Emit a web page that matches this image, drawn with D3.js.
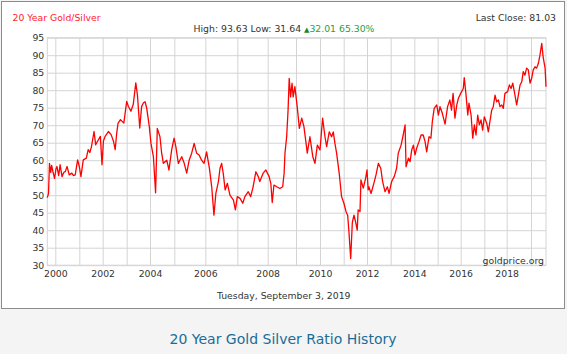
<!DOCTYPE html>
<html>
<head>
<meta charset="utf-8">
<script src="https://cdn.jsdelivr.net/npm/d3@7"></script>
<style>
    body { margin: 0; background: #f4f4f4; }
    text { font-family: "DejaVu Sans", Verdana, sans-serif; }
</style>
</head>
<body>
<svg id="chart" width="567" height="354"></svg>
<script>
// gold / silver ratio (decimal year, ratio)
const ratioDates = [
    1999.67, 1999.72, 1999.76, 1999.81, 1999.85, 1999.9, 1999.97, 2000.03, 2000.07, 2000.14,
    2000.2, 2000.28, 2000.35, 2000.42, 2000.49, 2000.58, 2000.69, 2000.76, 2000.83, 2000.93,
    2001.0, 2001.07, 2001.17, 2001.3, 2001.38, 2001.45, 2001.52, 2001.63, 2001.7, 2001.78,
    2001.9, 2001.97, 2002.03, 2002.1, 2002.24, 2002.35, 2002.45, 2002.52, 2002.58, 2002.64,
    2002.74, 2002.88, 2003.0, 2003.07, 2003.18, 2003.28, 2003.39, 2003.46, 2003.56, 2003.64,
    2003.72, 2003.79, 2003.86, 2003.97, 2004.04, 2004.14, 2004.23, 2004.30, 2004.41, 2004.48,
    2004.55, 2004.69, 2004.78, 2004.89, 2004.99, 2005.05, 2005.13, 2005.24, 2005.32, 2005.40,
    2005.48, 2005.56, 2005.64, 2005.72, 2005.80, 2005.88, 2005.96, 2006.04, 2006.13, 2006.20,
    2006.27, 2006.33, 2006.41, 2006.46, 2006.51, 2006.56, 2006.62, 2006.69, 2006.77, 2006.88,
    2006.94, 2007.0, 2007.09, 2007.18, 2007.25, 2007.36, 2007.44, 2007.52, 2007.61, 2007.69,
    2007.74, 2007.85, 2007.94, 2008.05, 2008.11, 2008.16, 2008.22, 2008.32, 2008.43, 2008.53,
    2008.58, 2008.61, 2008.67, 2008.72, 2008.76, 2008.81, 2008.86, 2008.90, 2008.96, 2009.05,
    2009.14, 2009.24, 2009.33, 2009.42, 2009.47, 2009.58, 2009.70, 2009.79, 2009.89, 2010.0,
    2010.11, 2010.21, 2010.28, 2010.39, 2010.49, 2010.56, 2010.63, 2010.70, 2010.81, 2010.91,
    2011.01, 2011.10, 2011.17, 2011.22, 2011.30, 2011.37, 2011.44, 2011.51, 2011.58, 2011.62,
    2011.70, 2011.74, 2011.84, 2011.94, 2012.0, 2012.05, 2012.08, 2012.17, 2012.27, 2012.38,
    2012.48, 2012.58, 2012.66, 2012.76, 2012.86, 2012.93, 2013.04, 2013.15, 2013.25, 2013.32,
    2013.44, 2013.53, 2013.61, 2013.65, 2013.75, 2013.82, 2013.89, 2013.96, 2014.03, 2014.10,
    2014.20, 2014.29, 2014.38, 2014.46, 2014.53, 2014.63, 2014.71, 2014.77, 2014.85, 2014.96,
    2015.03, 2015.10, 2015.20, 2015.32, 2015.43, 2015.53, 2015.60, 2015.67, 2015.75, 2015.83,
    2015.90, 2016.0, 2016.11, 2016.15, 2016.22, 2016.30, 2016.35, 2016.44, 2016.51, 2016.58,
    2016.65, 2016.72, 2016.79, 2016.86, 2016.93, 2017.0, 2017.11, 2017.18, 2017.25, 2017.33,
    2017.40, 2017.48, 2017.55, 2017.63, 2017.70, 2017.78, 2017.85, 2017.92, 2018.04, 2018.11,
    2018.18, 2018.25, 2018.34, 2018.41, 2018.48, 2018.55, 2018.62, 2018.68, 2018.75, 2018.82,
    2018.89, 2018.96, 2019.03, 2019.10, 2019.18, 2019.25, 2019.33, 2019.40, 2019.48, 2019.54,
    2019.58, 2019.63, 2019.67
]
const ratioValues = [
    49.3, 50.5, 59.1, 56.5, 58.5, 56.8, 54.8, 57.6, 58.2, 55.6,
    58.7, 55.3, 56.5, 56.8, 58.2, 55.8, 56.3, 55.6, 55.8, 60.1,
    58.2, 55.3, 60.1, 60.6, 63, 62.2, 63.9, 68.2, 64.4, 65.4,
    66.8, 58.7, 65.5, 66.8, 68.2, 67.3, 65.4, 63, 67.5, 70.6,
    71.6, 70.6, 76.8, 75.4, 74, 75.9, 82.1, 78.7, 69.2, 75.3,
    76.4, 76.7, 74.8, 69.6, 64.8, 61, 50.7, 69.1, 66.7, 62,
    59.1, 60, 57.2, 62.9, 66.3, 63.9, 59.1, 61, 59.1, 56.3,
    60, 62, 64.8, 62, 61.5, 60, 59.1, 62.4, 57.6, 52.4,
    44.3, 50.5, 53.9, 57.7, 59.1, 56.3, 51.5, 53.4, 50, 48.6,
    45.8, 49.6, 49.1, 47.7, 49.6, 51, 49.6, 52.4, 56.7, 55.3,
    53.9, 56.3, 57.2, 55.3, 53.4, 47.9, 52.9, 52.4, 51.9, 52.4,
    56.3, 62, 66.7, 74.3, 83.4, 78.1, 82, 78.1, 81, 75.3,
    69.1, 72, 69.6, 64.8, 62, 66.7, 61, 59.1, 64.3, 62.9,
    72, 66.7, 63.9, 68.1, 66.7, 68.1, 64.8, 62, 56.3, 49.6,
    47.7, 45.3, 44.3, 40, 31.9, 42.2, 44.3, 42.4, 40, 45.8,
    45.3, 54.4, 52, 54.8, 57.2, 51.5, 52.4, 50.5, 52.9, 55.8,
    59.1, 57.7, 53.9, 51, 52.4, 50.5, 53.9, 55.3, 57.7, 62,
    64.3, 67.2, 70.1, 58.1, 60.6, 59.6, 62.9, 64.3, 61.5, 63.4,
    65.3, 67.2, 67.2, 65.3, 62.4, 66.7, 66.3, 71, 74.8, 75.8,
    72.9, 75.3, 73.4, 70.3, 75.3, 77.2, 74.3, 79.1, 72, 75.8,
    77.7, 79.1, 80.5, 83.6, 79.1, 72.9, 76.3, 72.9, 66.3, 70.1,
    67.2, 72.9, 70.1, 71.5, 68.6, 72.4, 70.5, 68.1, 71, 74.3,
    75.3, 78.6, 76.7, 77.2, 75.3, 75.8, 74.8, 79.1, 79.6, 81.5,
    80.5, 82, 78.6, 75.8, 78.6, 81.5, 82.4, 85.3, 84.3, 86.3,
    85.8, 82, 83.4, 85.8, 86.7, 86.3, 87.7, 90, 93.4, 89.6,
    88.1, 86.3, 81.0
]

const yTicks = d3.range(30, 100, 5)
const yearLines = d3.range(2000, 2020)
const yearLabels = d3.range(2000, 2020, 2)

const titleText = "20 Year Gold/Silver"
const lastCloseText = "Last Close: 81.03"
const highLowText = "High: 93.63 Low: 31.64 "
const changeText = "32.01 65.30%"
const dateText = "Tuesday, September 3, 2019"
const sourceText = "goldprice.org"
const captionText = "20 Year Gold Silver Ratio History"

let data = ratioDates.map((d, i) => ({year: d, value: ratioValues[i]}))

// plot area
let plot = {left: 47.3, right: 546, top: 37.7, bottom: 265.2}

// the source chart spaces years unevenly (points per year), so x is piecewise
let xDomain = [1999.67].concat(yearLines, [2019.67])
let xRange = [47.3, 55.3, 79.3, 102.7, 126.7, 150, 174.3, 205.3, 237.3, 267.7, 296,
    320, 343.7, 367, 390.7, 414.3, 437.7, 460.7, 484.3, 506.7, 531, 546]
let x = d3.scaleLinear().domain(xDomain).range(xRange)
let y = d3.scaleLinear().domain([30, 95]).range([plot.bottom, plot.top])

let svg = d3.select("#chart")

svg.append("rect")
    .attr("width", 567).attr("height", 354)
    .attr("fill", "#f4f4f4")

svg.append("rect")
    .attr("x", 1.5).attr("y", 1.5)
    .attr("width", 563).attr("height", 307)
    .attr("fill", "#fff")
    .attr("stroke", "#8c8c8c")

// horizontal grid + y labels
let yAxis = d3.axisLeft(y)
    .tickValues(yTicks)
    .tickSize(-(plot.right - plot.left))
    .tickPadding(3)
let gy = svg.append("g")
    .attr("transform", `translate(${plot.left},0)`)
    .call(yAxis)
gy.select(".domain").remove()
gy.selectAll("line").attr("stroke", "#d4d4d4")
gy.selectAll("text").attr("font-size", "9.3px").attr("fill", "#333")
    .attr("font-family", "DejaVu Sans, Verdana, sans-serif")

// vertical grid + year labels
let xAxis = d3.axisBottom(x)
    .tickValues(yearLines)
    .tickSize(-(plot.bottom - plot.top))
    .tickPadding(5)
    .tickFormat(d => yearLabels.includes(d) ? d : "")
let gx = svg.append("g")
    .attr("transform", `translate(0,${plot.bottom})`)
    .call(xAxis)
gx.select(".domain").remove()
gx.selectAll("line").attr("stroke", "#d4d4d4")
gx.selectAll("text").attr("font-size", "9.3px").attr("fill", "#333")
    .attr("font-family", "DejaVu Sans, Verdana, sans-serif")

// plot edges
svg.append("rect")
    .attr("x", plot.left).attr("y", plot.top)
    .attr("width", plot.right - plot.left).attr("height", plot.bottom - plot.top)
    .attr("fill", "none")
    .attr("stroke", "#d4d4d4")

// ratio line
let line = d3.line()
    .x(d => x(d.year))
    .y(d => y(d.value))
svg.append("path")
    .datum(data)
    .attr("fill", "none")
    .attr("stroke", "#ff0000")
    .attr("stroke-width", 1.3)
    .attr("stroke-linejoin", "round")
    .attr("d", line)

// header texts
svg.append("text")
    .attr("x", 12.5).attr("y", 20.5)
    .attr("font-size", "9.3px").attr("fill", "#ff1a2e")
    .text(titleText)

svg.append("text")
    .attr("x", 556).attr("y", 20.5)
    .attr("text-anchor", "end")
    .attr("font-size", "9.3px").attr("fill", "#333")
    .text(lastCloseText)

let hl = svg.append("text")
    .attr("x", 284).attr("y", 31.5)
    .attr("text-anchor", "middle")
    .attr("font-size", "9.3px").attr("fill", "#333")
hl.append("tspan").text(highLowText)
hl.append("tspan").attr("fill", "#138a2a").attr("font-size", "7px").text("▲")
hl.append("tspan").attr("fill", "#1fa043").text(changeText)

svg.append("text")
    .attr("x", 544).attr("y", 263.5)
    .attr("text-anchor", "end")
    .attr("font-size", "9.3px").attr("fill", "#333")
    .text(sourceText)

svg.append("text")
    .attr("x", 283.7).attr("y", 299)
    .attr("text-anchor", "middle")
    .attr("font-size", "9.3px").attr("fill", "#333")
    .text(dateText)

svg.append("text")
    .attr("x", 283).attr("y", 344)
    .attr("text-anchor", "middle")
    .attr("font-family", "Open Sans, sans-serif")
    .attr("font-size", "14px").attr("fill", "#1b6c98")
    .text(captionText)
</script>
</body>
</html>
